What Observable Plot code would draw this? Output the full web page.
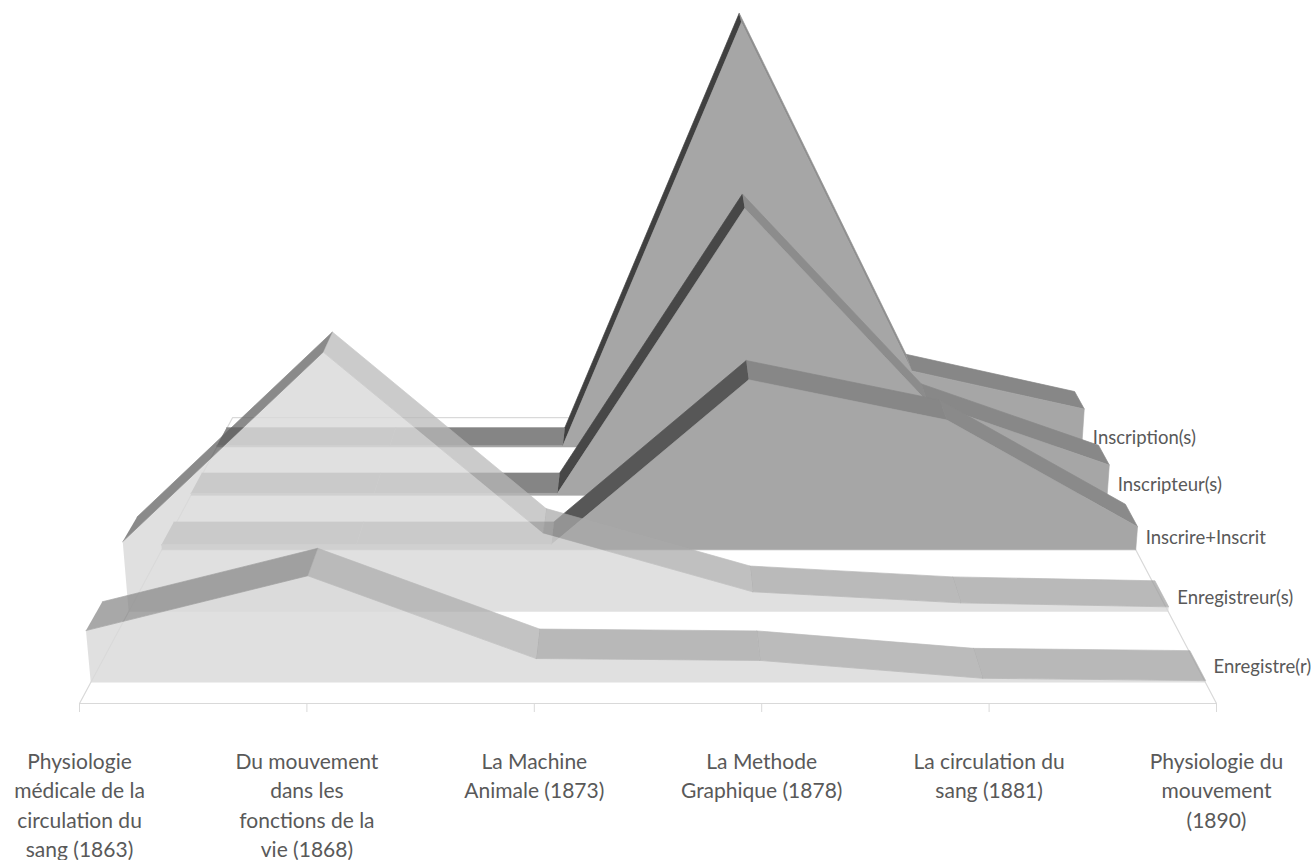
<!DOCTYPE html>
<html>
<head>
<meta charset="utf-8">
<script src="https://cdn.jsdelivr.net/npm/d3@7"></script>
<script src="https://cdn.jsdelivr.net/npm/@observablehq/plot@0.6"></script>
<style>
  body { margin: 0; background: #ffffff; }
  svg { display: block; }
</style>
</head>
<body>
<div id="chart"></div>
<script>
// ---------- data ----------
const categories = [
  "Physiologie médicale de la circulation du sang (1863)",
  "Du mouvement dans les fonctions de la vie (1868)",
  "La Machine Animale (1873)",
  "La Methode Graphique (1878)",
  "La circulation du sang (1881)",
  "Physiologie du mouvement (1890)"
];
const tickLabels = [
  "Physiologie\nmédicale de la\ncirculation du\nsang (1863)",
  "Du mouvement\ndans les\nfonctions de la\nvie (1868)",
  "La Machine\nAnimale (1873)",
  "La Methode\nGraphique (1878)",
  "La circulation du\nsang (1881)",
  "Physiologie du\nmouvement\n(1890)"
];
// series, front row first
const seriesNames = ["Enregistre(r)", "Enregistreur(s)", "Inscrire+Inscrit", "Inscripteur(s)", "Inscription(s)"];
const enregistrer     = [11.0, 22.4, 5.1, 4.7, 0.9, 0.4];
const enregistreurs   = [15.7, 56.4, 17.6, 4.5, 2.0, 1.1];
const inscrireInscrit = [1.2, 1.2, 1.2, 39.6, 30.4, 5.5];
const inscripteurs    = [0.5, 0.5, 0.5, 69.2, 23.1, 7.6];
const inscriptions    = [0.3, 0.3, 0.3, 105.4, 19.9, 10.0];
const seriesValues = [enregistrer, enregistreurs, inscrireInscrit, inscripteurs, inscriptions];

// ---------- view (3D perspective) ----------
const WIDTH = 1312, HEIGHT = 860, FLOOR_Y = 703, PX_PER_UNIT = 5.6;
const STEP_PX = 227.4;
const CX = 2.524;                         // horizontal vanishing point, category units
const CV = 1071.5 / PX_PER_UNIT;          // vertical vanishing point, value units
const PITCH = 1.4e-4 * PX_PER_UNIT;       // slight camera tilt
const W_FRONT = 1.02, W_STEP = 0.0737, W_THICK = 0.03, W_FLOOR_BACK = 1.364;

function proj(i, v, w0) {
  const w = w0 - PITCH * v;
  return {x: CX + (i - CX) / w, y: CV + (v - CV) / w};
}
function gray(g) { g = Math.round(Math.max(0, Math.min(255, g))); return d3.rgb(g, g, g).formatHex(); }
function shade(angle, light) {
  if (light) return gray(angle > 0 ? 159 - angle * 1.4 : 159 - angle * 0.6);
  return gray(angle > 0 ? Math.max(64, 133 - angle * 1.05) : 133 - angle * 0.15);
}

const marks = [];
// floor outline
const floor = [proj(0, 0, 1), proj(5, 0, 1), proj(5, 0, W_FLOOR_BACK), proj(0, 0, W_FLOOR_BACK), proj(0, 0, 1)];
marks.push(Plot.line(floor, {x: "x", y: "y", stroke: "#d9d9d9", strokeWidth: 1.2}));

// series back to front
for (let j = seriesValues.length - 1; j >= 0; --j) {
  const vals = seriesValues[j];
  const light = j <= 1;
  const wf = W_FRONT + W_STEP * j, wb = wf + W_THICK;
  // front face
  const face = [];
  vals.forEach((v, i) => face.push(proj(i, v, wf)));
  for (let i = vals.length - 1; i >= 0; --i) face.push(proj(i, 0, wf));
  const faceMark = Plot.line(face, {
    x: "x", y: "y",
    fill: light ? "#d9d9d9" : "#a6a6a6",
    fillOpacity: light ? 0.82 : 1,
    stroke: light ? "none" : "#a6a6a6", strokeWidth: 0.6
  });
  if (light) marks.push(faceMark);
  // top ribbon: one quad per segment, composited as one group
  const ribbon = [];
  for (let i = 0; i < vals.length - 1; ++i) {
    const angle = Math.atan2((vals[i + 1] - vals[i]) * PX_PER_UNIT, STEP_PX) * 180 / Math.PI;
    const color = shade(angle, light);
    [proj(i, vals[i], wf), proj(i + 1, vals[i + 1], wf), proj(i + 1, vals[i + 1], wb), proj(i, vals[i], wb)]
      .forEach(p => ribbon.push({...p, seg: i, color}));
  }
  marks.push(Plot.line(ribbon, {
    x: "x", y: "y", z: "seg", fill: "color", stroke: "color", strokeWidth: 0.7,
    opacity: light ? 0.73 : 1
  }));
  if (!light) marks.push(faceMark);
}

// depth (series) labels along the right floor edge
const seriesLabels = seriesNames.map((name, j) => {
  const p = proj(5, 0, W_FRONT + W_STEP * j + W_THICK / 2);
  return {name, x: p.x, y: p.y};
});
marks.push(Plot.text(seriesLabels, {
  x: "x", y: "y", text: "name", textAnchor: "start", dx: 16,
  fontSize: 18.5, fill: "#595959"
}));

// category axis
marks.push(Plot.axisX(d3.range(categories.length), {
  tickFormat: i => tickLabels[i],
  tickSize: 9, tickPadding: 36, label: null,
  stroke: "#d9d9d9", fill: "#595959",
  fontSize: 21, lineHeight: 1.39
}));

const chart = Plot.plot({
  width: WIDTH, height: HEIGHT,
  marginTop: 0, marginBottom: HEIGHT - FLOOR_Y, marginLeft: 79, marginRight: WIDTH - 1216,
  x: {domain: [0, categories.length - 1], axis: null},
  y: {domain: [0, FLOOR_Y / PX_PER_UNIT], axis: null},
  color: {type: "identity"},
  style: {fontFamily: "Lato, 'Open Sans', sans-serif", background: "#ffffff", overflow: "visible"},
  marks
});
document.getElementById("chart").appendChild(chart);
</script>
</body>
</html>
